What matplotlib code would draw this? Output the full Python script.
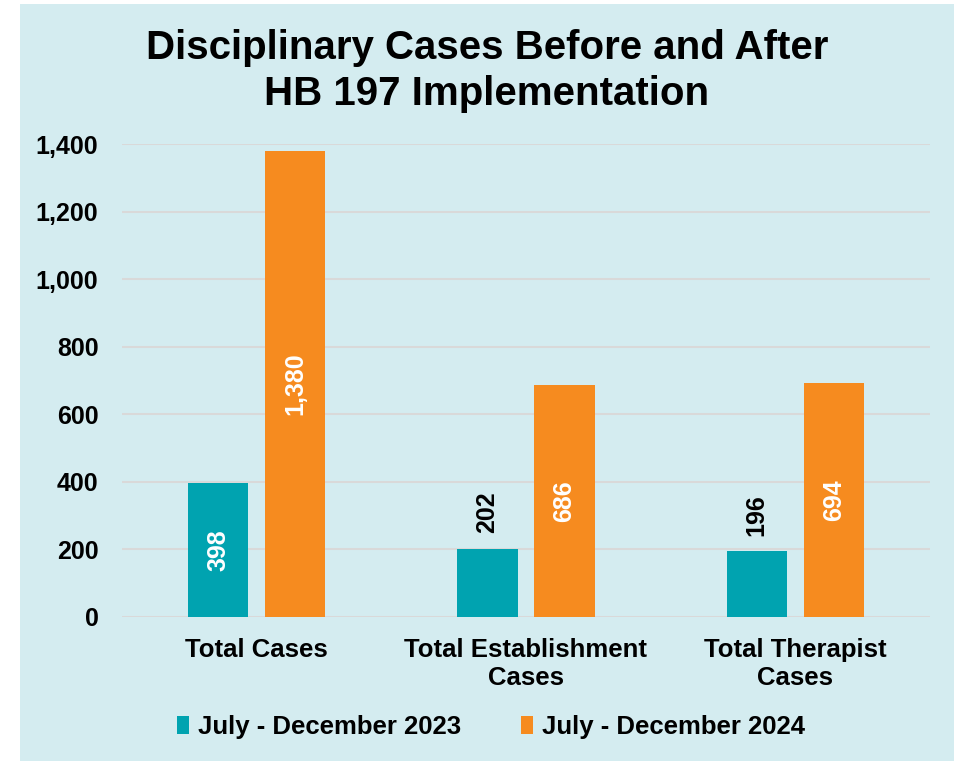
import numpy as np
import matplotlib
matplotlib.use("Agg")
import matplotlib.pyplot as plt
import matplotlib.patches as mpatches

plt.rcParams['font.family'] = ['Liberation Sans', 'DejaVu Sans']
plt.rcParams['font.weight'] = 'bold'

categories = ['Total Cases', 'Total Establishment\nCases', 'Total Therapist\nCases']
series_names = ['July - December 2023', 'July - December 2024']
values_2023 = [398, 202, 196]
values_2024 = [1380, 686, 694]
yticks = [0, 200, 400, 600, 800, 1000, 1200, 1400]

teal = '#00a3b0'
orange = '#f68b1f'
bg = '#d4ecf0'

fig = plt.figure(figsize=(9.61, 7.61), dpi=100, facecolor='white')
# light blue panel behind the chart
fig.patches.append(mpatches.Rectangle((20 / 961, 0), 934 / 961, 757 / 761,
                                      transform=fig.transFigure, facecolor=bg,
                                      edgecolor='none', zorder=-10))

ax = fig.add_axes([122 / 961, 144 / 761, 808 / 961, 473 / 761])
ax.set_facecolor('none')

x = np.arange(len(categories))
w = 0.223
off = 0.143
b1 = ax.bar(x - off, values_2023, w, color=teal, label=series_names[0], zorder=3)
b2 = ax.bar(x + off, values_2024, w, color=orange, label=series_names[1], zorder=3)

# value labels: inside (white) when the bar is tall enough, above (black) otherwise
for bars, vals in [(b1, values_2023), (b2, values_2024)]:
    for rect, v in zip(bars, vals):
        cx = rect.get_x() + rect.get_width() / 2
        txt = f'{v:,}'
        if v > 300:
            ax.text(cx, v / 2, txt, rotation=90, ha='center', va='center',
                    color='white', fontsize=18, fontweight='bold', zorder=4)
        else:
            ax.annotate(txt, (cx, v), xytext=(0, 11), textcoords='offset points',
                        rotation=90, ha='center', va='bottom', color='black',
                        fontsize=18, fontweight='bold', zorder=4)

ax.set_xlim(-0.5, len(categories) - 0.5)
ax.set_ylim(0, 1400)
ax.set_yticks(yticks)
ax.set_yticklabels([f'{t:,}' for t in yticks])
ax.set_xticks(x)
ax.set_xticklabels(categories, linespacing=1.22)
ax.tick_params(axis='y', length=0, pad=17, labelsize=18)
ax.tick_params(axis='x', length=0, pad=15, labelsize=18.5)
for lab in ax.get_xticklabels() + ax.get_yticklabels():
    lab.set_fontweight('bold')

ax.grid(axis='y', color='#d9d9d9', linewidth=1.5, zorder=1)
ax.set_axisbelow(True)
for s in ax.spines.values():
    s.set_visible(False)

fig.text(487 / 961, 1 - 71 / 761,
         'Disciplinary Cases Before and After\nHB 197 Implementation',
         ha='center', va='center', fontsize=29, fontweight='bold',
         linespacing=1.25)

fig.legend(handles=[b1, b2], labels=series_names, loc='center',
           bbox_to_anchor=(491 / 961, 34 / 761), ncol=2, frameon=False,
           fontsize=18.5, handlelength=0.5, handleheight=0.75,
           handletextpad=0.35, columnspacing=2.3)

fig.savefig('out.png', dpi=100, facecolor='white')
